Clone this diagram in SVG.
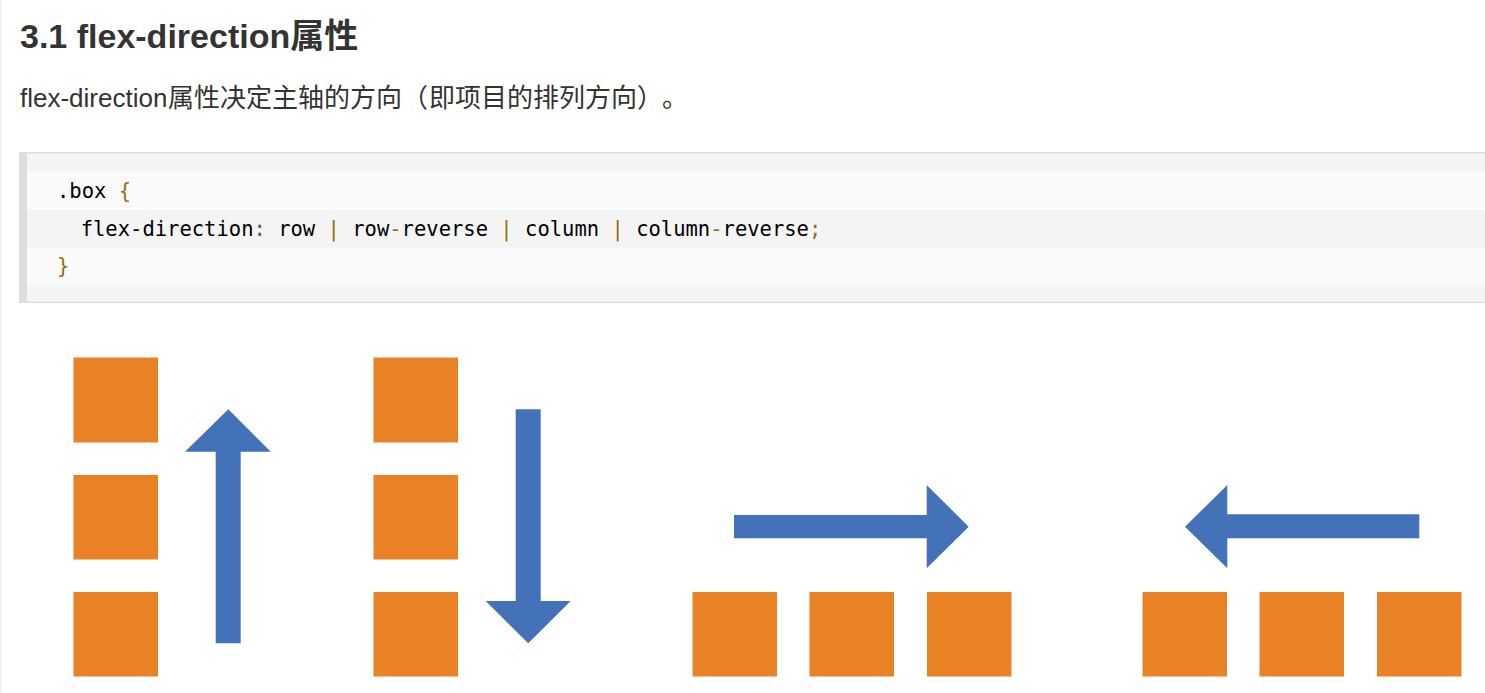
<svg xmlns="http://www.w3.org/2000/svg" width="1485" height="693" viewBox="0 0 1485 693">
<style>
.h{font-family:"Liberation Sans","Noto Sans CJK SC",sans-serif;fill:#333}
.cjk{font-family:"Noto Sans CJK SC",sans-serif}
.code{font-family:"DejaVu Sans Mono",monospace;font-size:20.5px;fill:#000}
.p{fill:#8f7110}
.g{fill:#555}
.sq{fill:#E88225}
.ar{fill:#4472B8}
</style>
<rect x="0" y="0" width="1485" height="693" fill="#fff"/>
<rect x="0" y="0" width="1.5" height="693" fill="#ececec"/>
<g id="title">
<text class="h" x="20" y="48" font-size="34" font-weight="bold">3.1 flex-direction属性</text>
</g>
<g id="intro">
<text class="h" x="20" y="107" font-size="26">flex-direction<tspan class="cjk" x="168">属性决定主轴的方向（</tspan><tspan class="cjk" x="429">即项目的排列方向）</tspan><tspan class="cjk" x="662">。</tspan></text>
</g>
<g id="codeblock">
<rect x="19" y="152" width="1466" height="151" fill="#dddddd"/>
<rect x="27" y="153.3" width="1458" height="148.4" fill="#f4f4f4"/>
<rect x="27" y="172" width="1458" height="38" fill="#fafafa"/>
<rect x="27" y="247.7" width="1458" height="37.3" fill="#fafafa"/>
<text class="code" x="57" y="198" xml:space="preserve">.box <tspan class="p">{</tspan></text>
<text class="code" x="80.7" y="236" xml:space="preserve">flex-direction<tspan class="g">:</tspan> row <tspan class="p">|</tspan> row<tspan class="p">-</tspan>reverse <tspan class="p">|</tspan> column <tspan class="p">|</tspan> column<tspan class="p">-</tspan>reverse<tspan class="p">;</tspan></text>
<text class="code" x="57" y="273" xml:space="preserve"><tspan class="p">}</tspan></text>
</g>
<g id="column-reverse">
<rect class="sq" x="73.5" y="357.5" width="84.5" height="85"/>
<rect class="sq" x="73.5" y="475" width="84.5" height="84.5"/>
<rect class="sq" x="73.5" y="592" width="84.5" height="84.5"/>
</g>
<g id="column">
<rect class="sq" x="373.5" y="357.5" width="84.5" height="85"/>
<rect class="sq" x="373.5" y="475" width="84.5" height="84.5"/>
<rect class="sq" x="373.5" y="592" width="84.5" height="84.5"/>
</g>
<g id="row">
<rect class="sq" x="692.5" y="592" width="84.5" height="84.5"/>
<rect class="sq" x="809.5" y="592" width="84.5" height="84.5"/>
<rect class="sq" x="927" y="592" width="84.5" height="84.5"/>
</g>
<g id="row-reverse">
<rect class="sq" x="1142.5" y="592" width="84.5" height="84.5"/>
<rect class="sq" x="1259.5" y="592" width="84.5" height="84.5"/>
<rect class="sq" x="1377" y="592" width="84.5" height="84.5"/>
</g>
<g id="connectors">
<polygon class="ar" points="228.3,409.3 270.7,451.7 240.7,451.7 240.7,643.3 215.7,643.3 215.7,451.7 185,451.7"/>
<polygon class="ar" points="515.7,409.3 540.7,409.3 540.7,601 570.7,601 528.2,643.3 485.7,601 515.7,601"/>
<polygon class="ar" points="734,515 926.7,515 926.7,485 968.7,526.7 926.7,568.3 926.7,538.3 734,538.3"/>
<polygon class="ar" points="1419.3,514.3 1227.3,514.3 1227.3,485 1185,526.7 1227.3,568.3 1227.3,538.3 1419.3,538.3"/>
</g>
</svg>
